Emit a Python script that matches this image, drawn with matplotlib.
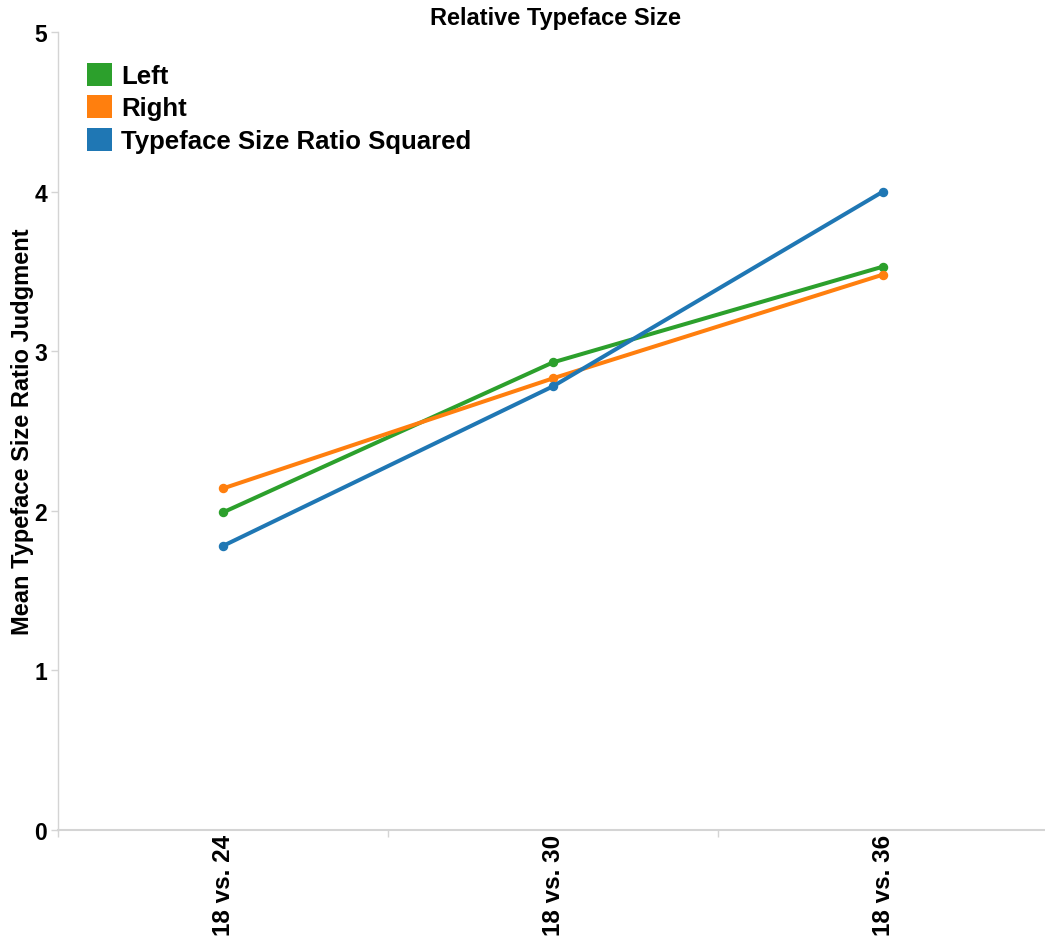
import matplotlib.pyplot as plt
from matplotlib.patches import Patch
import numpy as np

plt.rcParams['font.family'] = ['Liberation Sans', 'DejaVu Sans']
plt.rcParams['font.weight'] = 'bold'

categories = ['18 vs. 24', '18 vs. 30', '18 vs. 36']
left_vals = [1.99, 2.93, 3.53]
right_vals = [2.14, 2.83, 3.48]
squared_vals = [1.78, 2.78, 4.00]

series = [
    ('Left', left_vals, '#2ca02c'),
    ('Right', right_vals, '#ff7f0e'),
    ('Typeface Size Ratio Squared', squared_vals, '#1f77b4'),
]

W, H = 1045, 937
fig = plt.figure(figsize=(W / 100, H / 100), dpi=100)
ax = fig.add_axes([58 / W, (H - 831) / H, 990 / W, (831 - 33) / H])

x = np.arange(len(categories))
for name, vals, col in series:
    ax.plot(x, vals, color=col, linewidth=2.9, marker='o', markersize=5.8,
            solid_capstyle='round', zorder=3)

ax.set_xlim(-0.5, 2.5)
ax.set_ylim(0, 5)

grey = '#d4d4d4'
for s in ['top', 'right']:
    ax.spines[s].set_visible(False)
ax.spines['left'].set_color(grey)
ax.spines['bottom'].set_color(grey)
ax.spines['left'].set_linewidth(1.0)
ax.spines['bottom'].set_linewidth(1.5)

ax.set_yticks(range(6))
ax.set_yticklabels([str(i) for i in range(6)], fontsize=16.5, fontweight='bold')
ax.tick_params(axis='y', length=5, width=1, color=grey, pad=3)

ax.set_xticks(x)
ax.set_xticklabels(categories, rotation=90, fontsize=17.5, fontweight='bold', va='top')
ax.tick_params(axis='x', length=0, pad=3)
ax.set_xticks([-0.5, 0.5, 1.5, 2.5], minor=True)
ax.tick_params(axis='x', which='minor', length=5, color=grey, width=1)

ax.set_ylabel('Mean Typeface Size Ratio Judgment', fontsize=17, fontweight='bold')
ax.yaxis.set_label_coords(-24 / 990, 0.5)
fig.text(555 / W, 1 - 19 / H, 'Relative Typeface Size', ha='center', va='center',
         fontsize=17, fontweight='bold')

handles = [Patch(facecolor=c, edgecolor='none', label=n) for n, _, c in series]
leg = ax.legend(handles=handles, loc='upper left', bbox_to_anchor=(0.014, 0.981),
                frameon=False, prop={'size': 18.5, 'weight': 'bold'},
                handlelength=0.95, handleheight=1.0, handletextpad=0.38, labelspacing=0.28,
                borderaxespad=0.2)

fig.savefig('out.png', dpi=100)
